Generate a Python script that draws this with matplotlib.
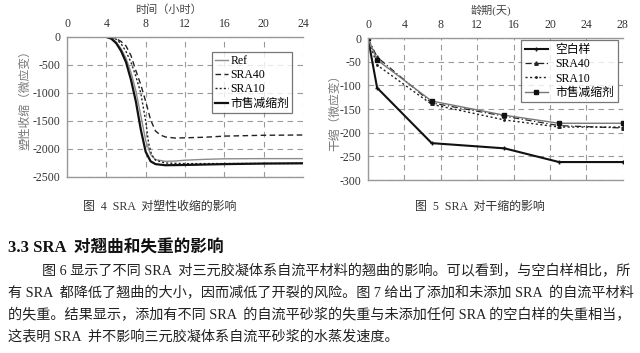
import matplotlib
matplotlib.use('Agg')
import matplotlib.pyplot as plt

plt.rcParams['font.family'] = ['Liberation Serif', 'Noto Sans CJK SC']
plt.rcParams['axes.unicode_minus'] = False

# 图4 塑性收缩
t_ref = [4, 4.5, 5, 5.5, 6, 6.5, 7, 7.5, 8, 8.5, 9, 10, 11, 12, 14, 16, 20, 24]
ref = [0, -20, -90, -210, -380, -630, -960, -1400, -1850, -2100, -2190, -2220, -2215, -2200, -2185, -2175, -2172, -2172]
t_sra40 = [4.3, 5, 5.5, 6, 6.5, 7, 7.5, 8, 8.5, 9, 9.5, 10, 11, 12, 14, 16, 20, 24]
sra40 = [0, -30, -80, -160, -330, -600, -850, -1150, -1480, -1680, -1750, -1785, -1805, -1800, -1790, -1770, -1755, -1750]
t_sra10 = [4.5, 5, 5.5, 6, 6.5, 7, 7.5, 8, 8.3, 8.6, 9, 10, 12, 16, 24]
sra10 = [0, -40, -120, -260, -450, -700, -1000, -1500, -1900, -2100, -2200, -2250, -2262, -2260, -2258]
t_com = [4, 4.5, 5, 5.5, 6, 6.5, 7, 7.5, 8, 8.5, 9, 10, 12, 16, 20, 24]
com = [0, -30, -110, -250, -450, -760, -1150, -1650, -2050, -2220, -2270, -2290, -2285, -2270, -2260, -2255]

# 图5 干缩
days = [0, 1, 7, 15, 21, 28]
blank = [0, -105, -222, -233, -262, -262]
d_sra40 = [0, -40, -137, -165, -185, -190]
d_sra10 = [0, -57, -140, -173, -188, -188]
d_com = [0, -46, -133, -163, -180, -180]

fig = plt.figure(figsize=(6.4, 3.53), dpi=100)
grid_kw = dict(color='#9a9a9a', linestyle=(0, (5, 4)), linewidth=0.8)
spine_c = '#999999'


def style(ax):
    ax.xaxis.tick_top()
    ax.grid(True, **grid_kw)
    ax.tick_params(length=0, labelsize=8.5, colors='#333333')
    ax.tick_params(axis='x', pad=5)
    ax.tick_params(axis='y', pad=5)
    for s in ['top', 'left', 'bottom']:
        ax.spines[s].set_color(spine_c)
        ax.spines[s].set_linewidth(1.0)
    ax.spines['right'].set_visible(False)


ax1 = fig.add_axes([0.1047, 0.4986, 0.3688, 0.3966])
ax1.plot(t_ref, ref, color='#8c8c8c', lw=1.0, label='Ref')
ax1.plot(t_sra40, sra40, color='#222222', lw=1.0, ls=(0, (4, 2.5)), label='SRA40')
ax1.plot(t_sra10, sra10, color='#222222', lw=1.0, ls=(0, (1.5, 1.5)), label='SRA10')
ax1.plot(t_com, com, color='#111111', lw=1.6, label='市售减缩剂')
ax1.set_xlim(0, 24)
ax1.set_ylim(-2500, 0)
ax1.set_xticks(range(0, 25, 4))
ax1.set_yticks(range(-2500, 1, 500))
style(ax1)
leg1 = ax1.legend(loc='upper right', bbox_to_anchor=(0.955, 0.895), fontsize=8.5,
                  frameon=True, fancybox=False, handlelength=1.1, handletextpad=0.2,
                  borderpad=0.25, labelspacing=0.2, borderaxespad=0)
leg1.get_frame().set_edgecolor('#555555')
leg1.get_frame().set_linewidth(0.9)

ax2 = fig.add_axes([0.575, 0.490, 0.398, 0.402])
ax2.plot(days, blank, color='#111111', lw=1.5, marker='+', ms=3, mew=1, label='空白样')
ax2.plot(days, d_sra40, color='#222222', lw=0.9, ls=(0, (5, 2, 1, 2)), marker='^', ms=2.5, label='SRA40')
ax2.plot(days, d_sra10, color='#222222', lw=1.0, ls=(0, (1.5, 1.8)), marker='.', ms=2, label='SRA10')
ax2.plot(days, d_com, color='#777777', lw=1.0, marker='s', ms=3, mfc='#111111', mec='#111111', label='市售减缩剂')
ax2.set_xlim(0, 28)
ax2.set_ylim(-300, 0)
ax2.set_xticks(range(0, 29, 4))
ax2.set_yticks(range(-300, 1, 50))
style(ax2)
leg2 = ax2.legend(loc='upper right', bbox_to_anchor=(0.98, 0.985), fontsize=8.5,
                  frameon=True, fancybox=False, handlelength=2.0, handletextpad=0.6,
                  borderpad=0.3, labelspacing=0.2, borderaxespad=0)
leg2.get_frame().set_edgecolor('#555555')
leg2.get_frame().set_linewidth(0.9)

# 轴标题
fig.text(169 / 640, 1 - 10 / 353, '时间（小时）', fontsize=8, color='#444444', ha='center', va='center')
fig.text(491 / 640, 1 - 10 / 353, '龄期(天)', fontsize=8, color='#444444', ha='center', va='center')
fig.text(25 / 640, 1 - 97 / 353, '塑性收缩（微应变）', fontsize=8.5, color='#777777', rotation=90,
         ha='center', va='center')
fig.text(335 / 640, 1 - 110 / 353, '干缩（微应变）', fontsize=8.5, color='#777777', rotation=90,
         ha='center', va='center')

# 图题
fig.text(160 / 640, 1 - 207 / 353, '图  4  SRA  对塑性收缩的影响', fontsize=8.6, color='#333333',
         ha='center', va='center')
fig.text(480 / 640, 1 - 207 / 353, '图  5  SRA  对干缩的影响', fontsize=8.6, color='#333333',
         ha='center', va='center')

# 正文
fig.text(8 / 640, 1 - 249 / 353, '3.3 SRA  对翘曲和失重的影响', fontsize=12, fontweight='bold',
         color='#111111', ha='left', va='center')
lines = [
    (42, '图 6 显示了不同 SRA  对三元胶凝体系自流平材料的翘曲的影响。可以看到，与空白样相比，所'),
    (8, '有 SRA  都降低了翘曲的大小，因而减低了开裂的风险。图 7 给出了添加和未添加 SRA  的自流平材料'),
    (8, '的失重。结果显示，添加有不同 SRA  的自流平砂浆的失重与未添加任何 SRA 的空白样的失重相当，'),
    (8, '这表明 SRA  并不影响三元胶凝体系自流平砂浆的水蒸发速度。'),
]
ys = [271, 293, 315, 337]
for (x0, s), y in zip(lines, ys):
    fig.text(x0 / 640, 1 - y / 353, s, fontsize=10.2, color='#222222', ha='left', va='center')

fig.savefig('out.png', dpi=100)
